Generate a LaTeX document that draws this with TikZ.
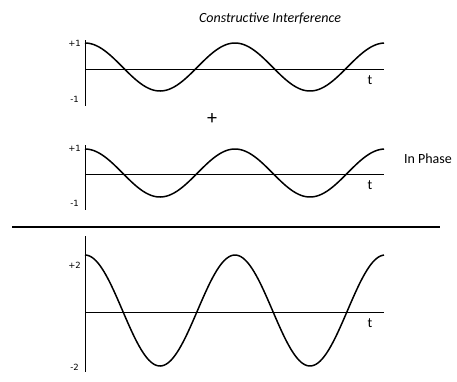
\documentclass[tikz,border=0pt]{standalone}
\usepackage{fontspec}
\setmainfont{Carlito}
\newfontfamily\lblfont{DejaVu Sans}
\begin{document}
\begin{tikzpicture}[x=1pt,y=-1pt,
  wave/.style={line width=1.5pt, line join=round},
  axisline/.style={line width=0.8pt},
  sepline/.style={line width=2pt},
  lbl/.style={font=\lblfont\fontsize{8.5}{10}\selectfont, inner sep=0pt},
  tlbl/.style={font=\fontsize{14}{16}\selectfont, inner sep=0pt},
  ttl/.style={font=\fontsize{14}{16}\selectfont\itshape, inner sep=0pt},
  plus/.style={font=\fontsize{20}{22}\selectfont, inner sep=0pt}]
\useasboundingbox (0,0) rectangle (457,381);
% title
\node[ttl] (title) at (270,18) {Constructive Interference};
% plot 1
\coordinate (a1t) at (85,40); \coordinate (a1b) at (85,106);
\coordinate (h1l) at (85,69); \coordinate (h1r) at (384,69);
\draw[axisline] (a1t) -- (a1b);
\draw[axisline] (h1l) -- (h1r);
\draw[wave] plot[domain=0:299, samples=160, smooth] ({85+\x}, {67-24*cos(\x*2.4)});
\node[lbl, anchor=east] (p1) at (81,43) {+1};
\node[lbl, anchor=east] (m1) at (79,99) {-1};
\node[tlbl] (t1) at (370,80) {t};
% plus
\node[plus] (plussign) at (212,119) {+};
% plot 2
\coordinate (a2t) at (85,145); \coordinate (a2b) at (85,210);
\coordinate (h2l) at (85,174); \coordinate (h2r) at (384,174);
\draw[axisline] (a2t) -- (a2b);
\draw[axisline] (h2l) -- (h2r);
\draw[wave] plot[domain=0:299, samples=160, smooth] ({85+\x}, {173-24*cos(\x*2.4)});
\node[lbl, anchor=east] (p2) at (81,148) {+1};
\node[lbl, anchor=east] (m2) at (79,203) {-1};
\node[tlbl] (t2) at (370,185) {t};
\node[inner sep=0pt, font=\fontsize{14}{16}\selectfont] (phase) at (428,159) {In Phase};
% separator
\coordinate (sl) at (12,227); \coordinate (sr) at (440,227);
\draw[sepline] (sl) -- (sr);
% plot 3
\coordinate (a3t) at (85,236); \coordinate (a3b) at (85,372);
\coordinate (h3l) at (85,312); \coordinate (h3r) at (384,312);
\draw[axisline] (a3t) -- (a3b);
\draw[axisline] (h3l) -- (h3r);
\draw[wave] plot[domain=0:299, samples=160, smooth] ({85+\x}, {310.5-55.5*cos(\x*2.4)});
\node[lbl, anchor=east] (p3) at (81,265) {+2};
\node[lbl, anchor=east] (m3) at (79,367) {-2};
\node[tlbl] (t3) at (370,323) {t};
\end{tikzpicture}
\end{document}
